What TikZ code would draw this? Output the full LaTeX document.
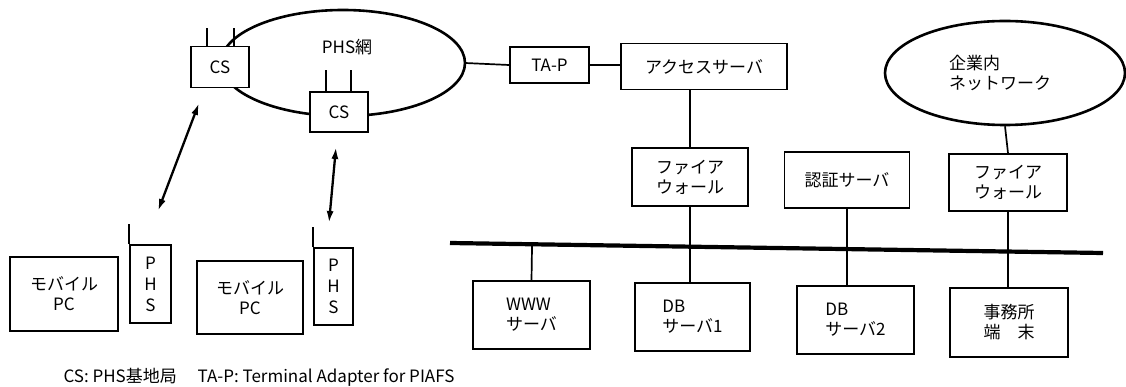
\documentclass[tikz,border=0pt]{standalone}
\usepackage{fontspec}
\setmainfont{Noto Sans CJK JP}
\usetikzlibrary{arrows.meta,calc,shapes.geometric}
\tikzset{
  box/.style={draw, line width=1.7pt, fill=white, inner sep=0pt, align=center},
  link/.style={line width=1.7pt},
  cloud/.style={draw, ellipse, line width=2.6pt, inner sep=0pt},
  radio/.style={line width=2.3pt, {Latex[length=12pt,width=7pt]}-{Latex[length=12pt,width=7pt]}},
  bus/.style={line width=4.2pt},
  lbl/.style={inner sep=0pt, align=left}
}
\begin{document}
\begin{tikzpicture}[x=1pt,y=-1pt,font=\fontsize{17}{20}\selectfont]
\useasboundingbox (0,0) rectangle (1126,387);
% PHS network
\draw[line width=2.6pt] (343,63) ellipse [x radius=122, y radius=53];
\coordinate (phsR) at (465,63);
\node[lbl] (phsnet) at (347,47) {PHS網};
\node[box, minimum width=58, minimum height=41] (cs1) at (220,67) {CS};
\node[box, minimum width=58, minimum height=40] (cs2) at (339,112) {CS};
\draw[link] ([xshift=-13pt]cs1.north) -- ++(0,-18);
\draw[link] ([xshift=14pt]cs1.north) -- ++(0,-18);
\draw[link] ([xshift=-13pt]cs2.north) -- ++(0,-21);
\draw[link] ([xshift=12pt]cs2.north) -- ++(0,-21);
% mobile terminals
\node[box, minimum width=108, minimum height=74] (pc1) at (64,294) {モバイル\\PC};
\node[box, minimum width=41, minimum height=78, font=\fontsize{17}{21}\selectfont] (phs1) at (150.5,284) {P\\H\\S};
\node[box, minimum width=106, minimum height=73] (pc2) at (250,297.5) {モバイル\\PC};
\node[box, minimum width=39, minimum height=77, font=\fontsize{17}{21}\selectfont] (phs2) at (333.5,286.5) {P\\H\\S};
\draw[link] (phs1.north west) -- ++(0,-20);
\draw[link] (phs2.north west) -- ++(0,-20);
% radio links
\coordinate (a1t) at (199,103);
\coordinate (a1b) at (158,211);
\coordinate (a2t) at (336,147);
\coordinate (a2b) at (329,223);
\draw[radio] (a1t) -- (a1b);
\draw[radio] (a2t) -- (a2b);
% access chain
\node[box, minimum width=79, minimum height=36] (tap) at (549.5,65) {TA-P};
\node[box, minimum width=166, minimum height=46] (acc) at (704,66.5) {アクセスサーバ};
\draw[link] (phsR) -- (tap.west);
\draw[link] (tap.east) -- (tap.east -| acc.west);
\node[box, minimum width=116, minimum height=58] (fw1) at (690,177) {ファイア\\ウォール};
\draw[link] (fw1.north) -- (fw1.north |- acc.south);
\node[box, minimum width=125, minimum height=56] (auth) at (847,180) {認証サーバ};
% corporate network
\node[cloud, minimum width=240, minimum height=104] (corp) at (1005,73) {};
\node[lbl] (corptxt) at (1000,73) {企業内\\ネットワーク};
\node[box, minimum width=118, minimum height=57] (fw3) at (1008,182.5) {ファイア\\ウォール};
\draw[link] (fw3.north) -- (corp.south);
% LAN
\coordinate (busL) at (450,243);
\coordinate (busR) at (1103,253);
\draw[bus] (busL) -- (busR);
\node[box, align=left, minimum width=117, minimum height=68] (www) at (531.5,315) {WWW\\サーバ};
\node[box, align=left, minimum width=115, minimum height=68] (db1) at (692.5,317) {DB\\サーバ1};
\node[box, align=left, minimum width=117, minimum height=68] (db2) at (855.5,320) {DB\\サーバ2};
\node[box, minimum width=118, minimum height=69] (off) at (1009,322.5) {事務所\\端\quad 末};
\draw[link] ($(busL)!(www.north)!(busR)$) -- (www.north);
\draw[link] (fw1.south) -- (fw1.south |- db1.north);
\draw[link] (auth.south) -- (auth.south |- db2.north);
\draw[link] (fw3.south) -- (fw3.south |- off.north);
% legend
\node[lbl] (legend) at (259,377) {CS: PHS基地局\quad\ TA-P: Terminal Adapter for PIAFS};
\end{tikzpicture}
\end{document}
